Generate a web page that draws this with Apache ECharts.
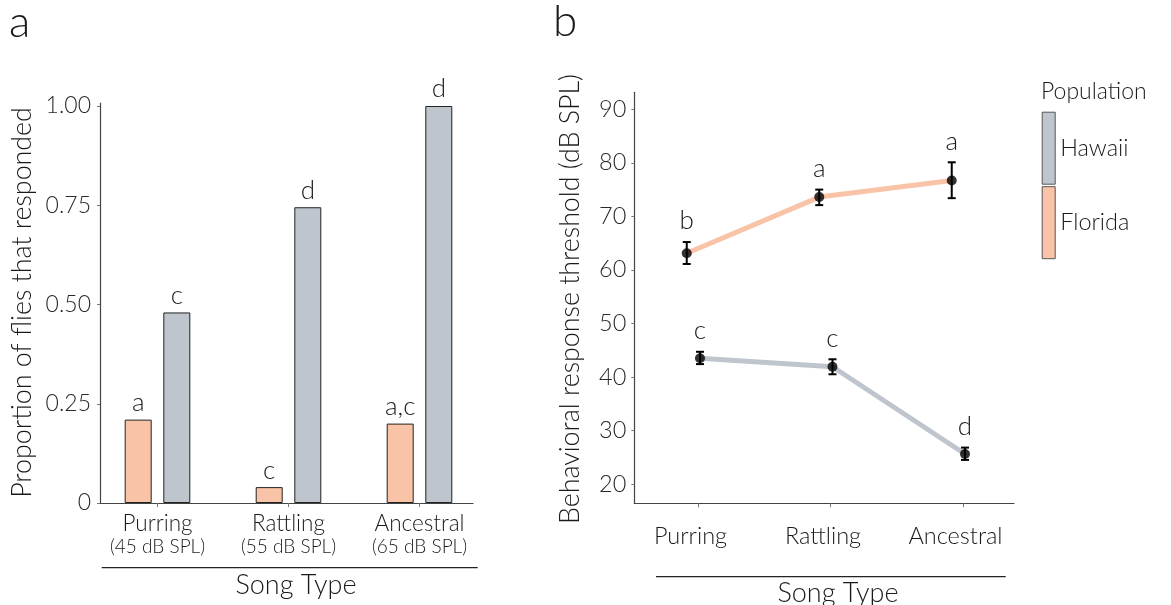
<!DOCTYPE html>
<html>
<head>
<meta charset="utf-8">
<script src="https://cdn.jsdelivr.net/npm/echarts@6/dist/echarts.min.js"></script>
<style>
html,body{margin:0;padding:0;background:#fff;}
#chart{width:1171px;height:605px;}
</style>
</head>
<body>
<div id="chart"></div>
<script>
// ---- data ----
const categories = ['Purring', 'Rattling', 'Ancestral'];
const splLabels = ['(45 dB SPL)', '(55 dB SPL)', '(65 dB SPL)'];
const propFlorida = [0.21, 0.04, 0.20];
const propHawaii = [0.48, 0.745, 1.0];
const lettersPropFlorida = ['a', 'c', 'a,c'];
const lettersPropHawaii = ['c', 'd', 'd'];
const threshFlorida = [63.1, 73.6, 76.7];
const threshFloridaLo = [61.1, 72.1, 73.4];
const threshFloridaHi = [65.2, 75.0, 80.1];
const threshHawaii = [43.5, 41.9, 25.6];
const threshHawaiiLo = [42.4, 40.5, 24.5];
const threshHawaiiHi = [44.7, 43.3, 26.8];
const lettersThreshFlorida = ['b', 'a', 'a'];
const lettersThreshHawaii = ['c', 'c', 'd'];
const yTicksA = [0, 0.25, 0.5, 0.75, 1.0];

// ---- style ----
const FONT = 'Lato';
const COL_FL = '#F9C3A7';
const COL_HI = '#BEC5CC';
const TXT = '#1a1a1a';
const dodgeFL = -0.085, dodgeHI = 0.015;

function pts(vals, lo, hi, dodge) {
  return vals.map((v, i) => [i + 1 + dodge, v, lo[i], hi[i]]);
}

function errRender(letters) {
  return function (params, api) {
    const x = api.value(0), lo = api.value(2), hi = api.value(3);
    const pLo = api.coord([x, lo]), pHi = api.coord([x, hi]);
    const c = 4;
    const st = { stroke: '#000', lineWidth: 2 };
    return {
      type: 'group',
      children: [
        { type: 'line', shape: { x1: pLo[0], y1: pLo[1], x2: pHi[0], y2: pHi[1] }, style: st },
        { type: 'line', shape: { x1: pLo[0] - c, y1: pLo[1], x2: pLo[0] + c, y2: pLo[1] }, style: st },
        { type: 'line', shape: { x1: pHi[0] - c, y1: pHi[1], x2: pHi[0] + c, y2: pHi[1] }, style: st },
        { type: 'text', x: pHi[0], y: pHi[1] - 8,
          style: { text: letters[params.dataIndex], textAlign: 'center', textVerticalAlign: 'bottom',
                   font: '300 26px ' + FONT, fill: TXT } }
      ]
    };
  };
}

const hidden = { show: false };
const chart = echarts.init(document.getElementById('chart'));
const option = {
  backgroundColor: '#fff',
  animation: false,
  textStyle: { fontFamily: FONT },
  grid: [
    { left: 100, right: 698, top: 103, bottom: 102 },          // a: axis lines
    { left: 92, width: 393, top: 106, bottom: 102 },           // a: data
    { left: 634.3, right: 157, top: 92.3, bottom: 101.7 },     // b: axis lines
    { left: 631.75, width: 397.5, top: 109.3, bottom: 121 }    // b: data
  ],
  xAxis: [
    { type: 'value', gridIndex: 0, min: 0, max: 1, axisLine: { show: true, lineStyle: { color: '#444', width: 1.2 } },
      axisTick: hidden, axisLabel: hidden, splitLine: hidden },
    { type: 'category', gridIndex: 1, data: categories, boundaryGap: true,
      axisLine: hidden, axisTick: { show: true, alignWithLabel: true, length: 4, lineStyle: { color: '#777' } },
      axisLabel: { margin: 8, interval: 0,
        formatter: (v, i) => '{n|' + v + '}\n{s|' + splLabels[i] + '}',
        rich: { n: { fontSize: 22.5, lineHeight: 25, color: TXT, fontFamily: FONT, fontWeight: 300 },
                s: { fontSize: 19, lineHeight: 22, color: TXT, fontFamily: FONT, fontWeight: 300 } } },
      splitLine: hidden },
    { type: 'value', gridIndex: 2, min: 0, max: 1, axisLine: { show: true, lineStyle: { color: '#444', width: 1.2 } },
      axisTick: hidden, axisLabel: hidden, splitLine: hidden },
    { type: 'category', gridIndex: 3, data: categories, boundaryGap: true, offset: 19.3,
      axisLine: hidden, axisTick: { show: true, alignWithLabel: true, length: 4, lineStyle: { color: '#777' } },
      axisLabel: { margin: 21, interval: 0, fontSize: 23.5, color: TXT, fontFamily: FONT, fontWeight: 300,
                   padding: [0, 15, 0, 0] },
      splitLine: hidden },
    { type: 'value', gridIndex: 3, min: 0.5, max: 3.5, show: false }
  ],
  yAxis: [
    { type: 'value', gridIndex: 0, min: 0, max: 1, axisLine: { show: true, lineStyle: { color: '#444', width: 1.2 } },
      axisTick: hidden, axisLabel: hidden, splitLine: hidden },
    { type: 'value', gridIndex: 1, min: yTicksA[0], max: yTicksA[yTicksA.length - 1], interval: 0.25, offset: -8,
      axisLine: hidden, axisTick: { show: true, length: 3, lineStyle: { color: '#777' } },
      axisLabel: { margin: 9, fontSize: 23, color: '#2a2a2a', fontFamily: FONT, fontWeight: 300,
        formatter: v => v === 0 ? '0' : v.toFixed(2) },
      splitLine: hidden },
    { type: 'value', gridIndex: 2, min: 0, max: 1, axisLine: { show: true, lineStyle: { color: '#444', width: 1.2 } },
      axisTick: hidden, axisLabel: hidden, splitLine: hidden },
    { type: 'value', gridIndex: 3, min: 20, max: 90, interval: 10, offset: -2.55,
      axisLine: hidden, axisTick: { show: true, length: 3, lineStyle: { color: '#777' } },
      axisLabel: { margin: 8, fontSize: 23.5, color: '#2a2a2a', fontFamily: FONT, fontWeight: 300 },
      splitLine: hidden }
  ],
  legend: {
    orient: 'vertical', left: 1041.7, top: 111.7, padding: 0, itemWidth: 13, itemHeight: 72, itemGap: 1.5,
    selectedMode: false,
    textStyle: { fontSize: 23.5, color: TXT, fontFamily: FONT, fontWeight: 300 },
    data: [
      { name: 'Hawaii', icon: 'rect', itemStyle: { color: COL_HI, borderColor: '#555', borderWidth: 1 } },
      { name: 'Florida', icon: 'rect', itemStyle: { color: COL_FL, borderColor: '#555', borderWidth: 1 } }
    ]
  },
  graphic: [
    { type: 'text', left: 9, top: 1, style: { text: 'a', font: '300 44px ' + FONT, fill: TXT } },
    { type: 'text', left: 553, top: 0, style: { text: 'b', font: '300 44px ' + FONT, fill: TXT } },
    { type: 'text', x: 22, y: 302.5, rotation: Math.PI / 2,
      style: { text: 'Proportion of flies that responded', textAlign: 'center', textVerticalAlign: 'middle',
               font: '300 26.8px ' + FONT, fill: TXT } },
    { type: 'text', x: 570, y: 299, rotation: Math.PI / 2,
      style: { text: 'Behavioral response threshold (dB SPL)', textAlign: 'center', textVerticalAlign: 'middle',
               font: '300 26.8px ' + FONT, fill: TXT } },
    { type: 'line', shape: { x1: 101.7, y1: 567.7, x2: 477.7, y2: 567.7 }, style: { stroke: '#222', lineWidth: 1.2 } },
    { type: 'line', shape: { x1: 656, y1: 576.7, x2: 1005.7, y2: 576.7 }, style: { stroke: '#222', lineWidth: 1.2 } },
    { type: 'text', x: 296, y: 585, style: { text: 'Song Type', textAlign: 'center', textVerticalAlign: 'middle',
               font: '300 27px ' + FONT, fill: TXT } },
    { type: 'text', x: 838, y: 593, style: { text: 'Song Type', textAlign: 'center', textVerticalAlign: 'middle',
               font: '300 27px ' + FONT, fill: TXT } },
    { type: 'text', x: 1041, y: 92, style: { text: 'Population', textAlign: 'left', textVerticalAlign: 'middle',
               font: '300 23px ' + FONT, fill: TXT } }
  ],
  series: [
    { name: 'Florida', type: 'bar', xAxisIndex: 1, yAxisIndex: 1, data: propFlorida, barWidth: 27, barGap: '43%',
      itemStyle: { color: COL_FL, borderColor: '#222', borderWidth: 1 },
      label: { show: true, position: 'top', distance: 4, fontSize: 26, color: TXT, fontFamily: FONT, fontWeight: 300,
               formatter: p => lettersPropFlorida[p.dataIndex] } },
    { name: 'Hawaii', type: 'bar', xAxisIndex: 1, yAxisIndex: 1, data: propHawaii, barWidth: 27, barGap: '43%',
      itemStyle: { color: COL_HI, borderColor: '#222', borderWidth: 1 },
      label: { show: true, position: 'top', distance: 4, fontSize: 26, color: TXT, fontFamily: FONT, fontWeight: 300,
               formatter: p => lettersPropHawaii[p.dataIndex] } },
    { name: 'Florida', type: 'line', xAxisIndex: 4, yAxisIndex: 3, z: 2, showSymbol: false,
      data: pts(threshFlorida, threshFloridaLo, threshFloridaHi, dodgeFL),
      lineStyle: { color: COL_FL, width: 5 }, itemStyle: { color: COL_FL } },
    { name: 'Hawaii', type: 'line', xAxisIndex: 4, yAxisIndex: 3, z: 2, showSymbol: false,
      data: pts(threshHawaii, threshHawaiiLo, threshHawaiiHi, dodgeHI),
      lineStyle: { color: COL_HI, width: 5 }, itemStyle: { color: COL_HI } },
    { type: 'custom', xAxisIndex: 4, yAxisIndex: 3, z: 3, renderItem: errRender(lettersThreshFlorida),
      data: pts(threshFlorida, threshFloridaLo, threshFloridaHi, dodgeFL) },
    { type: 'custom', xAxisIndex: 4, yAxisIndex: 3, z: 3, renderItem: errRender(lettersThreshHawaii),
      data: pts(threshHawaii, threshHawaiiLo, threshHawaiiHi, dodgeHI) },
    { type: 'scatter', xAxisIndex: 4, yAxisIndex: 3, z: 4, symbolSize: 10, itemStyle: { color: '#000' },
      data: pts(threshFlorida, threshFloridaLo, threshFloridaHi, dodgeFL) },
    { type: 'scatter', xAxisIndex: 4, yAxisIndex: 3, z: 4, symbolSize: 10, itemStyle: { color: '#000' },
      data: pts(threshHawaii, threshHawaiiLo, threshHawaiiHi, dodgeHI) }
  ]
};
chart.setOption(option);
</script>
</body>
</html>
